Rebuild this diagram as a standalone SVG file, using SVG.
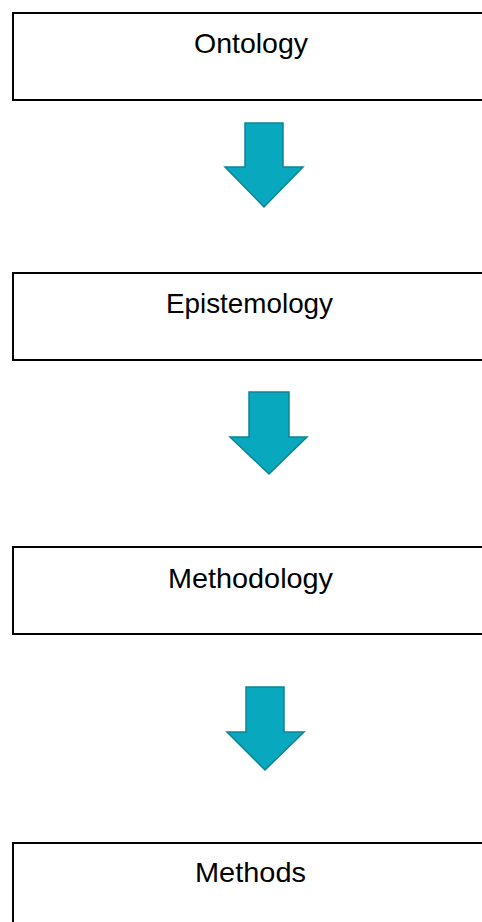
<svg xmlns="http://www.w3.org/2000/svg" width="482" height="922" viewBox="0 0 482 922">
<style>
.box{fill:#fff;stroke:#000;stroke-width:2}
.lbl{font-family:"Liberation Sans",Arial,sans-serif;font-size:28px;fill:#000;text-anchor:middle}
.arr{fill:#08a8bf;stroke:#0b8595;stroke-width:1.5;stroke-linejoin:miter}
</style>
<rect width="482" height="922" fill="#fff"/>
<g id="ontology"><rect class="box" x="13" y="13" width="480" height="87"/><text class="lbl" x="251" y="53" textLength="114" lengthAdjust="spacingAndGlyphs">Ontology</text></g>
<g id="epistemology"><rect class="box" x="13" y="273" width="480" height="87"/><text class="lbl" x="249.5" y="313" textLength="167" lengthAdjust="spacingAndGlyphs">Epistemology</text></g>
<g id="methodology"><rect class="box" x="13" y="547" width="480" height="87"/><text class="lbl" x="250.5" y="588" textLength="165" lengthAdjust="spacingAndGlyphs">Methodology</text></g>
<g id="methods"><rect class="box" x="13" y="843" width="480" height="100"/><text class="lbl" x="250.5" y="882" textLength="111" lengthAdjust="spacingAndGlyphs">Methods</text></g>
<g id="connectors">
<polygon class="arr" points="245,123 283,123 283,167 303,167 264,207 225,167 245,167"/>
<polygon class="arr" points="249,392 289,392 289,437 307,437 269,474 230,437 249,437"/>
<polygon class="arr" points="246,687 284,687 284,732 304,732 265,770 227,732 246,732"/>
</g>
</svg>
